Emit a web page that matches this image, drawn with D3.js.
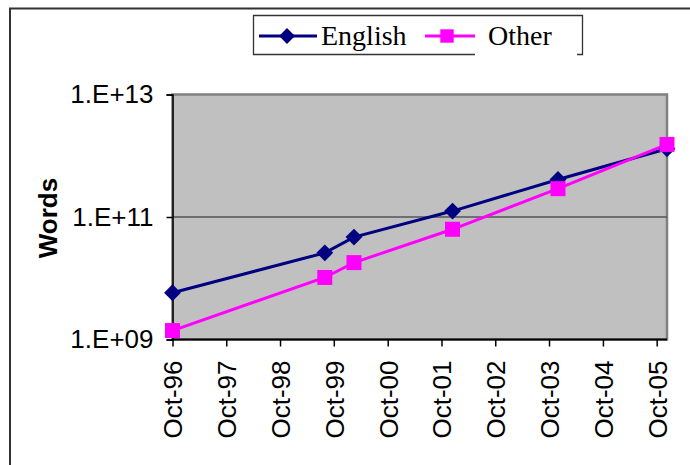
<!DOCTYPE html>
<html>
<head>
<meta charset="utf-8">
<script src="https://cdn.jsdelivr.net/npm/d3@7"></script>
<style>
  html, body { margin: 0; padding: 0; background: #fff; }
  svg { display: block; }
</style>
</head>
<body>
<svg id="chart" width="690" height="465"></svg>
<script>
// Survey dates (one per estimate)
const dates = ["1996-10-01", "1999-08-01", "2000-02-15", "2001-12-15", "2003-12-01", "2005-12-10"];
// Estimated number of words on the web, by language group
const englishWords = [5.8e9, 2.6e10, 4.7e10, 1.25e11, 4.1e11, 1.3e12];
const otherWords = [1.4e9, 1.03e10, 1.8e10, 6.3e10, 2.9e11, 1.53e12];
// Axis ticks
const yTicks = [1e9, 1e11, 1e13];
const yTickLabels = ["1.E+09", "1.E+11", "1.E+13"];
const xTickDates = ["1996-10-01", "1997-10-01", "1998-10-01", "1999-10-01", "2000-10-01",
                    "2001-10-01", "2002-10-01", "2003-10-01", "2004-10-01", "2005-10-01"];
const xTickLabels = ["Oct-96", "Oct-97", "Oct-98", "Oct-99", "Oct-00",
                     "Oct-01", "Oct-02", "Oct-03", "Oct-04", "Oct-05"];
const seriesNames = ["English", "Other"];

const parse = d3.utcParse("%Y-%m-%d");
const svg = d3.select("#chart");

// Outer chart frame (only the left and top edges fall inside the window)
svg.append("rect")
  .attr("x", 10).attr("y", 8.5)
  .attr("width", 700).attr("height", 480)
  .attr("fill", "#fff")
  .attr("stroke", "#333").attr("stroke-width", 2);

const plot = { left: 172.5, right: 667, top: 94.5, bottom: 339.5 };

const x = d3.scaleUtc()
  .domain([parse(dates[0]), parse(dates[dates.length - 1])])
  .range([plot.left, plot.right]);
const y = d3.scaleLog()
  .domain([1e9, 1e13])
  .range([plot.bottom, plot.top]);

// Plot area
svg.append("rect")
  .attr("x", plot.left).attr("y", plot.top)
  .attr("width", plot.right - plot.left).attr("height", plot.bottom - plot.top)
  .attr("fill", "#c0c0c0")
  .attr("stroke", "#808080").attr("stroke-width", 2.5);

// Horizontal gridline at the middle major tick
svg.append("g")
  .selectAll("line")
  .data(yTicks.filter(v => v > 1e9 && v < 1e13))
  .join("line")
  .attr("x1", plot.left).attr("x2", plot.right)
  .attr("y1", d => y(d)).attr("y2", d => y(d))
  .attr("stroke", "#555").attr("stroke-width", 1.6);

// Y axis
const yAxis = d3.axisLeft(y)
  .tickValues(yTicks)
  .tickFormat((d, i) => yTickLabels[i])
  .tickSize(6)
  .tickPadding(13);
const gy = svg.append("g")
  .attr("transform", `translate(${plot.left},0)`)
  .call(yAxis);
gy.select(".domain").attr("stroke", "#000").attr("stroke-width", 1.5);
gy.selectAll(".tick line").attr("stroke", "#000").attr("stroke-width", 1.5);
gy.selectAll(".tick text")
  .attr("font-family", "Liberation Sans, Arial, sans-serif")
  .attr("font-size", 26)
  .attr("fill", "#000");

// X axis (date axis, labels rotated)
const xAxis = d3.axisBottom(x)
  .tickValues(xTickDates.map(parse))
  .tickFormat((d, i) => xTickLabels[i])
  .tickSize(7)
  .tickSizeOuter(0);
const gx = svg.append("g")
  .attr("transform", `translate(0,${plot.bottom})`)
  .call(xAxis);
gx.select(".domain")
  .attr("d", `M${plot.left},0H${plot.right}`)
  .attr("stroke", "#000").attr("stroke-width", 2);
gx.selectAll(".tick line").attr("stroke", "#000").attr("stroke-width", 1.5);
gx.selectAll(".tick text")
  .attr("font-family", "Liberation Sans, Arial, sans-serif")
  .attr("font-size", 26)
  .attr("fill", "#000")
  .attr("text-anchor", "end")
  .attr("transform", "translate(0,21) rotate(-90)")
  .attr("x", 0).attr("y", 0)
  .attr("dy", "0.36em");

// Y axis title
svg.append("text")
  .attr("transform", "translate(48,218) rotate(-90)")
  .attr("text-anchor", "middle")
  .attr("dy", "0.36em")
  .attr("font-family", "Liberation Sans, Arial, sans-serif")
  .attr("font-weight", "bold")
  .attr("font-size", 26)
  .text("Words");

// Series
const colors = ["#000080", "#ff00ff"];
const series = [englishWords, otherWords].map((vals, i) => ({
  name: seriesNames[i],
  color: colors[i],
  points: vals.map((v, j) => ({ date: parse(dates[j]), value: v }))
}));

const line = d3.line().x(d => x(d.date)).y(d => y(d.value));

const diamond = d3.symbol().type(d3.symbolDiamond2).size(180);
const square = d3.symbol().type(d3.symbolSquare).size(225);
const markers = [diamond, square];

series.forEach((s, i) => {
  svg.append("path")
    .datum(s.points)
    .attr("d", line)
    .attr("fill", "none")
    .attr("stroke", s.color)
    .attr("stroke-width", 3);
});
series.forEach((s, i) => {
  svg.append("g")
    .selectAll("path")
    .data(s.points)
    .join("path")
    .attr("transform", d => `translate(${x(d.date)},${y(d.value)})`)
    .attr("d", markers[i]())
    .attr("fill", s.color);
});

// Legend
const legend = svg.append("g");
legend.append("rect")
  .attr("x", 253.5).attr("y", 15.5).attr("width", 329).attr("height", 39)
  .attr("fill", "#fff").attr("stroke", "none");
legend.append("path")
  .attr("d", "M475,54.5H253.5V15.5H582.5V54.5H577")
  .attr("fill", "none").attr("stroke", "#333").attr("stroke-width", 1.3);

const legendItems = [
  { lx1: 259, lx2: 317, mx: 287, tx: 321 },
  { lx1: 425, lx2: 475, mx: 447, tx: 488 }
];
series.forEach((s, i) => {
  const it = legendItems[i];
  legend.append("line")
    .attr("x1", it.lx1).attr("x2", it.lx2)
    .attr("y1", 36).attr("y2", 36)
    .attr("stroke", s.color).attr("stroke-width", 3);
  legend.append("path")
    .attr("transform", `translate(${it.mx},36)`)
    .attr("d", i === 0 ? d3.symbol().type(d3.symbolDiamond2).size(160)() : d3.symbol().type(d3.symbolSquare).size(180)())
    .attr("fill", s.color);
  legend.append("text")
    .attr("x", it.tx).attr("y", 44.5)
    .attr("font-family", "Liberation Serif, Times New Roman, serif")
    .attr("font-size", 28)
    .attr("fill", "#000")
    .text(s.name);
});
</script>
</body>
</html>
